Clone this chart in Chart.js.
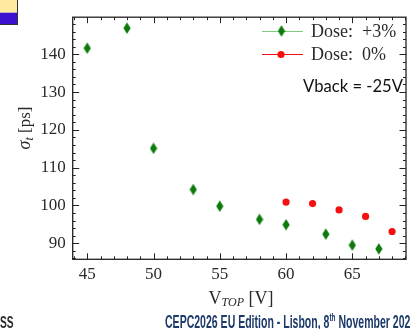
<!DOCTYPE html>
<html><head><meta charset="utf-8">
<script src="https://cdn.jsdelivr.net/npm/chart.js@4.4.1/dist/chart.umd.min.js"></script>
<style>html,body{margin:0;padding:0;background:#fff;overflow:hidden}canvas{display:block}</style>
</head><body>
<canvas id="c" width="411" height="329"></canvas>
<script>
// ---- data ----
const doseP3_V     = [45, 48, 50, 53, 55, 58, 60, 63, 65, 67];
const doseP3_sigma = [141.6, 146.9, 115.1, 104.2, 99.8, 96.3, 94.9, 92.4, 89.5, 88.5];
const dose0_V      = [60, 62, 64, 66, 68];
const dose0_sigma  = [100.9, 100.5, 98.8, 97.1, 93.1];
const xTickValues  = [45, 50, 55, 60, 65];
const yTickValues  = [90, 100, 110, 120, 130, 140];
const seriesLabels = ['Dose:  +3%', 'Dose:  0%'];
const noteText     = 'Vback = -25V';
const footerText   = 'CEPC2026 EU Edition - Lisbon, 8';
const footerSup    = 'th';
const footerTail   = ' November 2025';

const GREEN = '#0b7a0b', RED = '#f41010';
const SERIF = '"Liberation Serif", "DejaVu Serif", serif';

// elongated diamond marker
const diamond = document.createElement('canvas');
diamond.width = 8; diamond.height = 12;
(function(){const g=diamond.getContext('2d');g.fillStyle=GREEN;g.beginPath();
g.moveTo(4,0.3);g.lineTo(7.6,6);g.lineTo(4,11.7);g.lineTo(0.4,6);g.closePath();g.fill();})();

const toPts = (xs, ys) => xs.map((x, i) => ({x, y: ys[i]}));

const decor = {
  id: 'decor',
  beforeDraw(chart) {
    const ctx = chart.ctx;
    ctx.save();
    ctx.fillStyle = '#fff'; ctx.fillRect(0,0,chart.width,chart.height);
    // top-left slide logo fragment
    ctx.fillStyle = '#fde9a0'; ctx.fillRect(0,0,17,12.7);
    ctx.fillStyle = '#3a12d0'; ctx.fillRect(0,12.7,17,11.3);
    ctx.strokeStyle = '#333'; ctx.lineWidth = 1;
    ctx.strokeRect(-1,-1,18.5,25.5);
    ctx.restore();
  },
  afterDraw(chart) {
    const ctx = chart.ctx, a = chart.chartArea;
    const xs = chart.scales.x, ys = chart.scales.y;
    ctx.save();
    // frame
    ctx.strokeStyle = '#222'; ctx.lineWidth = 1.3;
    ctx.strokeRect(a.left, a.top, a.right - a.left, a.bottom - a.top);
    ctx.lineWidth = 1;
    ctx.beginPath();
    for (let v = Math.ceil(xs.min); v <= xs.max; v++) {
      const p = Math.round(xs.getPixelForValue(v)) + 0.5;
      const L = (v % 5 === 0) ? 6 : 3;
      ctx.moveTo(p, a.bottom); ctx.lineTo(p, a.bottom - L);
      ctx.moveTo(p, a.top); ctx.lineTo(p, a.top + L);
    }
    for (let v = Math.ceil(ys.min / 2) * 2; v <= ys.max; v += 2) {
      const p = Math.round(ys.getPixelForValue(v)) + 0.5;
      const L = (v % 10 === 0) ? 6.5 : 3;
      ctx.moveTo(a.left, p); ctx.lineTo(a.left + L, p);
      ctx.moveTo(a.right, p); ctx.lineTo(a.right - L, p);
    }
    ctx.stroke();

    // legend
    const leg = [{y: 31, c: '#7fcc7f', m: 'd', t: seriesLabels[0]}, {y: 54, c: RED, m: 'c', t: seriesLabels[1]}];
    leg.forEach(l => {
      ctx.strokeStyle = l.c; ctx.lineWidth = 1;
      ctx.beginPath(); ctx.moveTo(262, l.y + 0.5); ctx.lineTo(303, l.y + 0.5); ctx.stroke();
      if (l.m === 'd') ctx.drawImage(diamond, 281.5 - 4, l.y - 6);
      else { ctx.fillStyle = RED; ctx.beginPath(); ctx.arc(281, l.y + 0.5, 3.6, 0, Math.PI*2); ctx.fill(); }
      ctx.fillStyle = '#2a2a2a'; ctx.font = '18px ' + SERIF; ctx.textBaseline = 'middle'; ctx.textAlign = 'left';
      ctx.fillText(l.t, 311, l.y + 1);
    });
    // note
    ctx.font = '17px Lato, "Open Sans", sans-serif';
    ctx.fillStyle = '#111';
    ctx.textBaseline = 'middle';
    ctx.fillText(noteText, 303, 87, 100);

    // y title
    ctx.save();
    ctx.translate(24, 128); ctx.rotate(-Math.PI/2);
    ctx.fillStyle = '#2a2a2a'; ctx.textBaseline = 'alphabetic';
    const f1 = 'italic 18px ' + SERIF, f2 = 'italic 12px ' + SERIF, f3 = '17px ' + SERIF;
    ctx.font = f1; const w1 = ctx.measureText('σ').width;
    ctx.font = f2; const w2 = ctx.measureText('t').width;
    ctx.font = f3; const w3 = ctx.measureText(' [ps]').width;
    let x0 = -(w1 + w2 + w3) / 2;
    ctx.font = f1; ctx.fillText('σ', x0, 6); x0 += w1;
    ctx.font = f2; ctx.fillText('t', x0, 9); x0 += w2;
    ctx.font = f3; ctx.fillText(' [ps]', x0, 6);
    ctx.restore();

    // x title
    {
      const g1 = '18px ' + SERIF, g2 = 'italic 12px ' + SERIF;
      ctx.font = g1; const a1 = ctx.measureText('V').width, a3 = ctx.measureText(' [V]').width;
      ctx.font = g2; const a2 = ctx.measureText('TOP').width;
      let x = 241 - (a1 + a2 + a3) / 2;
      ctx.fillStyle = '#2a2a2a'; ctx.textBaseline = 'alphabetic';
      ctx.font = g1; ctx.fillText('V', x, 303.5); x += a1;
      ctx.font = g2; ctx.fillText('TOP', x, 306); x += a2;
      ctx.font = g1; ctx.fillText(' [V]', x, 303.5);
    }

    // footer
    ctx.save();
    ctx.translate(165, 327.5); ctx.scale(0.585, 1);
    ctx.fillStyle = '#1d3a6b'; ctx.textBaseline = 'alphabetic';
    ctx.font = 'bold 18px "Liberation Sans", Arimo, sans-serif';
    ctx.fillText(footerText, 0, 0);
    let fx = ctx.measureText(footerText).width;
    ctx.font = 'bold 11px "Liberation Sans", sans-serif';
    ctx.fillText(footerSup, fx, -7);
    fx += ctx.measureText(footerSup).width;
    ctx.font = 'bold 18px "Liberation Sans", sans-serif';
    ctx.fillText(footerTail, fx, 0);
    ctx.restore();
    ctx.save();
    ctx.translate(0, 327.5); ctx.scale(0.6, 1);
    ctx.fillStyle = '#2b2b2b'; ctx.font = 'bold 17px "Liberation Sans", sans-serif';
    ctx.fillText('SS', 0, 0);
    ctx.restore();
    ctx.restore();
  }
};

new Chart(document.getElementById('c'), {
  type: 'scatter',
  data: {
    datasets: [
      { label: seriesLabels[0], data: toPts(doseP3_V, doseP3_sigma), pointStyle: diamond, backgroundColor: GREEN, borderColor: GREEN },
      { label: seriesLabels[1], data: toPts(dose0_V, dose0_sigma), pointStyle: 'circle', pointRadius: 3.6, backgroundColor: RED, borderColor: RED, borderWidth: 0 }
    ]
  },
  options: {
    responsive: false, animation: false, devicePixelRatio: 1,
    layout: { padding: { top: 9, right: 0, bottom: 0, left: 0 } },
    plugins: { legend: { display: false }, tooltip: { enabled: false } },
    scales: {
      x: {
        type: 'linear', min: 43.9, max: 69.05,
        grid: { display: false, drawTicks: false }, border: { display: false },
        afterBuildTicks: s => { s.ticks = xTickValues.map(v => ({value: v})); },
        afterFit: s => { s.height = 69.7; },
        ticks: { padding: 5, color: '#2a2a2a', font: { family: SERIF, size: 17 } }
      },
      y: {
        type: 'linear', min: 85.75, max: 149.8,
        grid: { display: false, drawTicks: false }, border: { display: false },
        afterBuildTicks: s => { s.ticks = yTickValues.map(v => ({value: v})); },
        afterFit: s => { s.width = 72.7; },
        ticks: { padding: 7, color: '#2a2a2a', font: { family: SERIF, size: 17 } }
      }
    }
  },
  plugins: [decor]
});
</script>
</body></html>
